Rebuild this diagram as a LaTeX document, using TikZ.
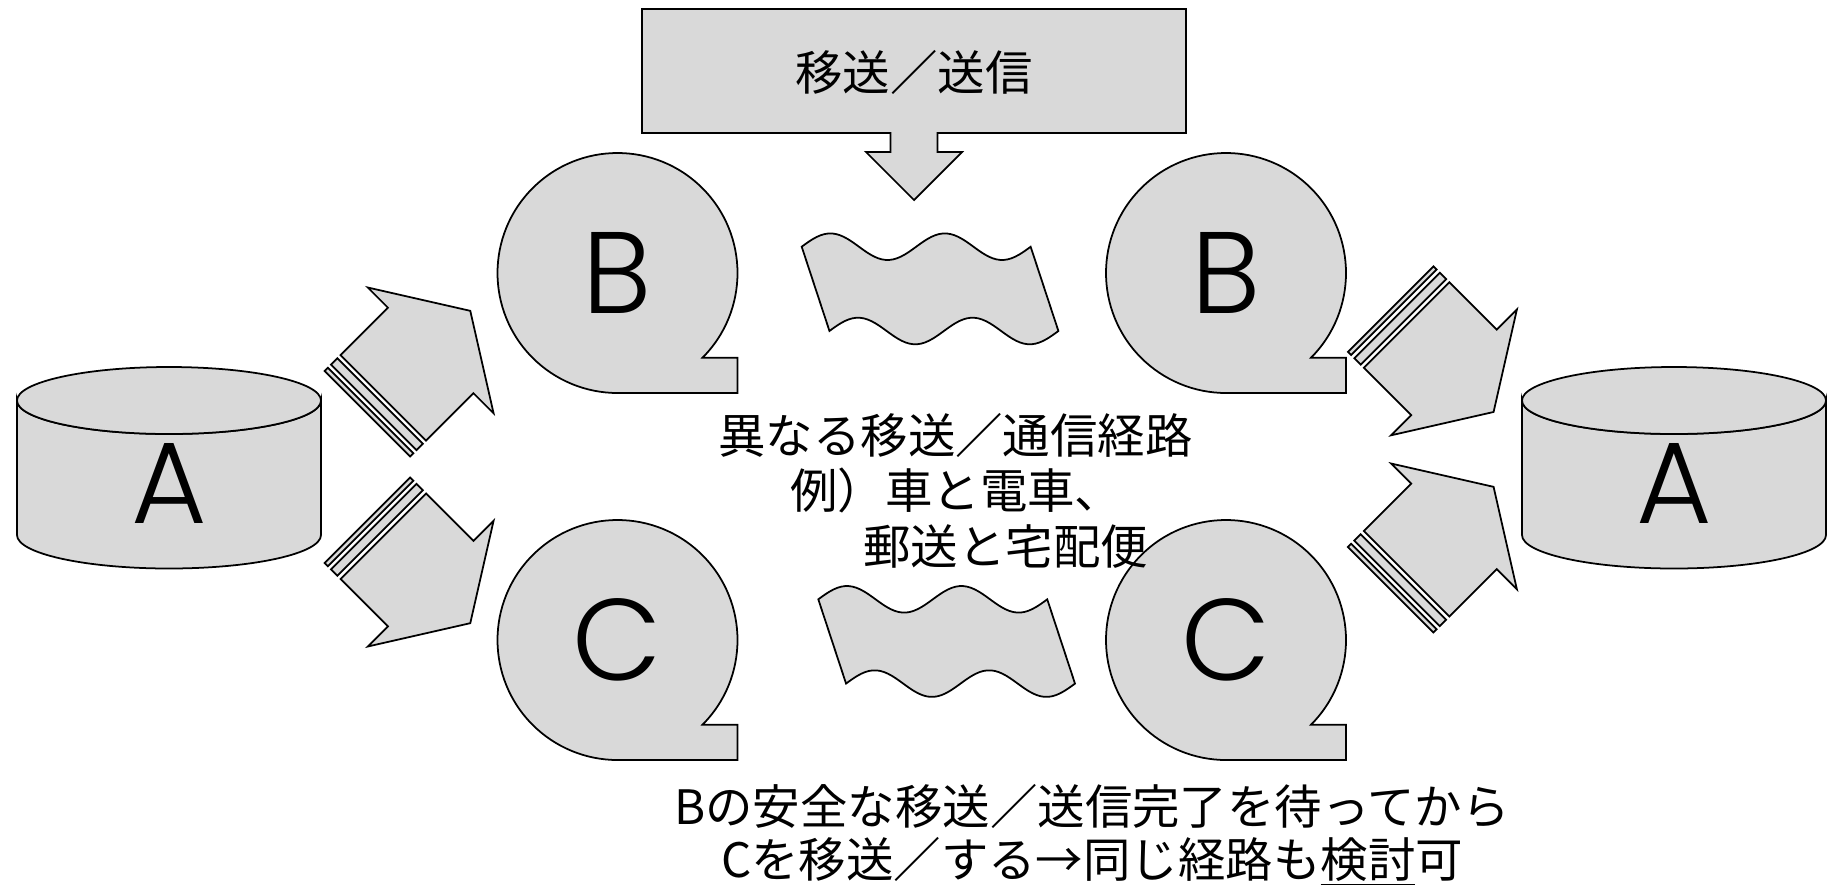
\documentclass[tikz,border=0pt]{standalone}
\usepackage{fontspec}
\newfontfamily\jpfont{Noto Sans CJK JP}
\newfontfamily\letterfont{Poppins}[UprightFont=* Light]
\definecolor{shapegray}{HTML}{D9D9D9}
\tikzset{
  shapeline/.style={draw=black, fill=shapegray, line width=1pt, line join=miter},
  bigletter/.style={font=\letterfont\fontsize{66}{66}\selectfont, inner sep=0pt},
  jptext/.style={font=\jpfont\fontsize{27}{30}\selectfont, inner sep=0pt},
  pics/bubble/.style={code={
    \draw[shapeline] (0,120) -- (120,120) -- (120,84.85) -- (45:120)
      arc[start angle=45, end angle=-270, radius=120] -- cycle;
  }},
  pics/drum/.style={code={
    \draw[shapeline] (-152,0) -- (-152,134.5)
      arc[start angle=180, end angle=0, x radius=152, y radius=33.5] -- (152,0)
      arc[start angle=0, end angle=180, x radius=152, y radius=33.5] -- cycle;
    \draw[shapeline] (0,0) ellipse[x radius=152, y radius=33.5];
  }},
  pics/stripearrow/.style={code={
    \draw[shapeline] (-22.5,-60.5) rectangle (-18,60.5);
    \draw[shapeline] (-13.5,-60.5) rectangle (-4.5,60.5);
    \draw[shapeline] (0,-60.5) -- (67,-60.5) -- (67,-89) -- (123,0)
      -- (67,89) -- (67,60.5) -- (0,60.5) -- cycle;
  }},
  pics/wavesheet/.style={code={
    \draw[shapeline] plot[domain=0:2, samples=61, smooth] ({114.5*\x},{-13.3*sin(360*\x)})
      -- plot[domain=2:0, samples=61, smooth] ({27.7+114.5*\x},{84.3-13.3*sin(360*\x)}) -- cycle;
  }}
}

\begin{document}
\begin{tikzpicture}[x=0.02cm, y=-0.02cm]
\useasboundingbox (0,0) rectangle (1830,894);

% top box with arrow
\draw[shapeline] (642,9) -- (1186,9) -- (1186,133) -- (937.5,133) -- (937.5,152)
  -- (962,152) -- (914,200) -- (866,152) -- (890.5,152) -- (890.5,133) -- (642,133) -- cycle;
\node[jptext] (sendlabel) at (914,72) {移送／送信};

% storage A
\pic at (169,400.5) {drum};
\pic at (1674,400.5) {drum};
\node[bigletter] (leftA) at (169,483) {A};
\node[bigletter] (rightA) at (1674,483) {A};

% arrows
\pic[rotate=45] at (383.3,397.8) {stripearrow};
\pic[rotate=-45] at (383.3,536.2) {stripearrow};
\pic[rotate=-45] at (1406.6,325) {stripearrow};
\pic[rotate=45] at (1406.6,573.8) {stripearrow};

% pieces B and C
\pic at (617.5,273) {bubble};
\pic at (1226,273) {bubble};
\pic at (617.5,640) {bubble};
\pic at (1226,640) {bubble};
\node[bigletter] (leftB) at (617.5,273) {B};
\node[bigletter] (rightB) at (1226,273) {B};
\node[bigletter] (leftC) at (617.5,640) {C};
\node[bigletter] (rightC) at (1226,640) {C};

% routes
\pic at (801.7,246.7) {wavesheet};
\pic at (818.3,599.3) {wavesheet};

\node[jptext, anchor=west] (route1) at (718,435) {異なる移送／通信経路};
\node[jptext, anchor=west] (route2) at (790,490) {例）車と電車、};
\node[jptext, anchor=west] (route3) at (863,547) {郵送と宅配便};

\node[jptext, align=center] (waitnote) at (1092,835)
  {Bの安全な移送／送信完了を待ってから\\Cを移送／する→同じ経路も\underline{検討}可};

\end{tikzpicture}
\end{document}
